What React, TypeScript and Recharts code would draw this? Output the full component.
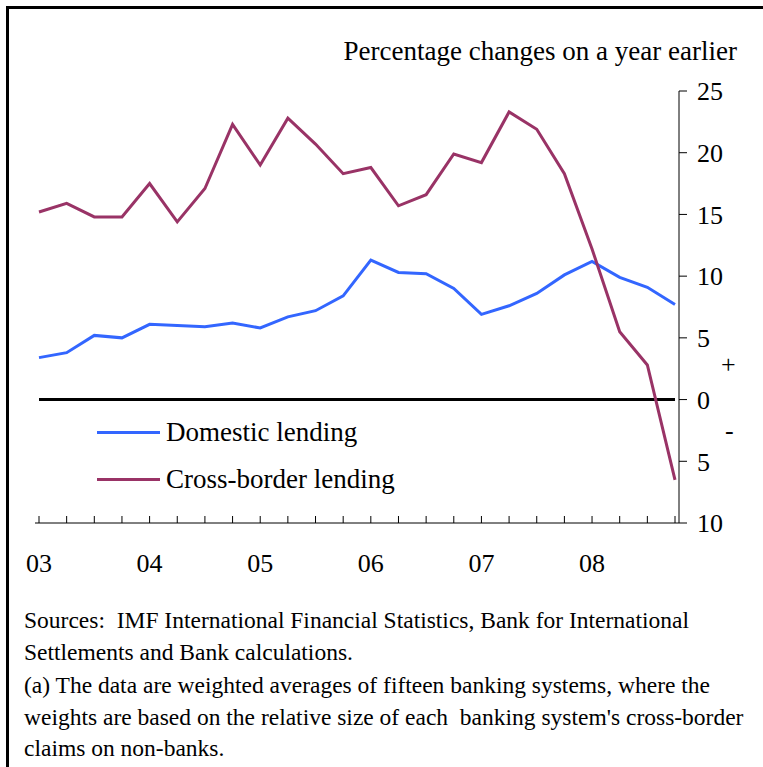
import React from "react";
import {
  LineChart,
  Line,
  XAxis,
  YAxis,
  ReferenceLine,
} from "recharts";

if (typeof document !== "undefined") {
  document.body.style.margin = "0";
}

const quarters = [
  "03 Q1", "03 Q2", "03 Q3", "03 Q4",
  "04 Q1", "04 Q2", "04 Q3", "04 Q4",
  "05 Q1", "05 Q2", "05 Q3", "05 Q4",
  "06 Q1", "06 Q2", "06 Q3", "06 Q4",
  "07 Q1", "07 Q2", "07 Q3", "07 Q4",
  "08 Q1", "08 Q2", "08 Q3", "08 Q4",
];

const yearLabels: Record<string, string> = {
  "03 Q1": "03",
  "04 Q1": "04",
  "05 Q1": "05",
  "06 Q1": "06",
  "07 Q1": "07",
  "08 Q1": "08",
};

const domestic = [
  3.4, 3.8, 5.2, 5.0, 6.1, 6.0, 5.9, 6.2, 5.8, 6.7, 7.2, 8.4,
  11.3, 10.3, 10.2, 9.0, 6.9, 7.6, 8.6, 10.1, 11.2, 9.9, 9.1, 7.7,
];

const crossBorder = [
  15.2, 15.9, 14.8, 14.8, 17.5, 14.4, 17.1, 22.3, 19.0, 22.8, 20.7, 18.3,
  18.8, 15.7, 16.6, 19.9, 19.2, 23.3, 21.9, 18.3, 12.2, 5.5, 2.8, -6.5,
];

const yTicks = [-10, -5, 0, 5, 10, 15, 20, 25];

const series = [
  { key: "domestic", name: "Domestic lending", color: "#3366ff" },
  { key: "crossBorder", name: "Cross-border lending", color: "#993366" },
];

const data = quarters.map((q, i) => ({
  quarter: q,
  domestic: domestic[i],
  crossBorder: crossBorder[i],
}));

const FONT = '"Liberation Serif", "Times New Roman", serif';

const XTick = (props: any) => {
  const { x, y, payload } = props;
  const label = yearLabels[payload.value] ?? "";
  return (
    <g>
      <line x1={x} y1={y - 7} x2={x} y2={y} stroke="#000" strokeWidth={1} />
      {label && (
        <text x={x} y={y + 49} textAnchor="middle" fontSize={26} fontFamily={FONT} fill="#000">
          {label}
        </text>
      )}
    </g>
  );
};

export default function App() {
  return (
    <div style={{ position: "relative", width: 763, height: 767, overflow: "hidden", background: "#fff" }}>
      <div
        style={{
          position: "absolute",
          left: 6,
          top: 6,
          width: 757,
          height: 761,
          borderTop: "3px solid #000",
          borderLeft: "3px solid #000",
          boxSizing: "border-box",
        }}
      />
      <div
        style={{
          position: "absolute",
          right: 763 - 737,
          top: 38,
          fontFamily: FONT,
          fontSize: 27,
          lineHeight: "27px",
          whiteSpace: "nowrap",
        }}
      >
        Percentage changes on a year earlier
      </div>
      <div style={{ position: "absolute", left: 0, top: 0 }}>
        <LineChart
          width={763}
          height={600}
          data={data}
          margin={{ top: 91, right: 0, bottom: 17, left: 35 }}
        >
          <XAxis
            dataKey="quarter"
            scale="point"
            padding={{ left: 4, right: 4 }}
            interval={0}
            tickLine={false}
            tickSize={0}
            tickMargin={0}
            height={60}
            axisLine={{ stroke: "#000", strokeWidth: 1 }}
            tick={<XTick />}
          />
          <YAxis
            orientation="right"
            width={84}
            domain={[-10, 25]}
            ticks={yTicks}
            allowDataOverflow
            tickFormatter={(v: number) => String(Math.abs(v))}
            tickSize={8}
            tickMargin={10}
            axisLine={{ stroke: "#000", strokeWidth: 1 }}
            tickLine={{ stroke: "#000", strokeWidth: 1 }}
            tick={{ fontSize: 26, fontFamily: FONT, fill: "#000", textAnchor: "start" }}
          />
          <ReferenceLine
            segment={[
              { x: quarters[0], y: 0 },
              { x: quarters[quarters.length - 1], y: 0 },
            ]}
            stroke="#000"
            strokeWidth={3}
          />
          {series.map((s) => (
            <Line
              key={s.key}
              type="linear"
              dataKey={s.key}
              name={s.name}
              stroke={s.color}
              strokeWidth={3}
              dot={false}
              isAnimationActive={false}
            />
          ))}
        </LineChart>
      </div>
      <div style={{ position: "absolute", left: 97, top: 408.5, fontFamily: FONT, fontSize: 27 }}>
        {series.map((s) => (
          <div key={s.key} style={{ display: "flex", alignItems: "center", height: 47, lineHeight: "47px" }}>
            <span style={{ display: "inline-block", width: 63, height: 3, background: s.color }} />
            <span style={{ marginLeft: 6, whiteSpace: "nowrap" }}>{s.name}</span>
          </div>
        ))}
      </div>
      <div style={{ position: "absolute", left: 721, top: 350, fontFamily: FONT, fontSize: 26 }}>+</div>
      <div style={{ position: "absolute", left: 725, top: 416, fontFamily: FONT, fontSize: 26 }}>-</div>
      <div
        style={{
          position: "absolute",
          left: 24,
          top: 605,
          fontFamily: FONT,
          fontSize: 23.5,
          lineHeight: "31.5px",
          whiteSpace: "pre",
          color: "#000",
        }}
      >
        {"Sources:  IMF International Financial Statistics, Bank for International\n" +
          "Settlements and Bank calculations."}
        <div style={{ marginTop: 2 }}>
          {"(a) The data are weighted averages of fifteen banking systems, where the\n" +
            "weights are based on the relative size of each  banking system's cross-border\n" +
            "claims on non-banks."}
        </div>
      </div>
    </div>
  );
}
